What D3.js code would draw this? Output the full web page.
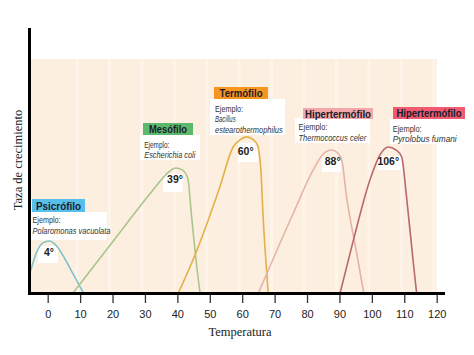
<!DOCTYPE html>
<html><head><meta charset="utf-8">
<script src="https://cdn.jsdelivr.net/npm/d3@7"></script>
<style>body{margin:0;background:#fff}svg{display:block}</style>
</head><body>
<svg id="c" width="474" height="355"></svg>
<script>
// ---- data ----
const xTicks = [0,10,20,30,40,50,60,70,80,90,100,110,120];
const psicrofilo = [[-5.3,9.4],[-3.5,17.1],[-1.5,21.4],[0.5,22.2],[3,19.7],[5.5,14.1],[8,7.7],[11,0]];
const mesofilo = [[7.8,0],[20,21.8],[30,39.7],[34,46.6],[37,51.3],[39.5,53.4],[41.5,52.6],[43.2,49.1],[44.4,32.5],[46,11.1],[47,0]];
const termofilo = [[40.3,0],[45.7,17.1],[53.1,45.3],[57.2,62.4],[59.3,65.4],[61.4,66.7],[63.5,65.4],[64.7,63.2],[65.7,53.8],[66.5,31.2],[67.5,9.8],[68,0]];
const hiper1 = [[65,0],[75.8,34.2],[81.9,52.6],[85,59.4],[87.6,61.1],[89.5,59.8],[90.7,56.8],[92.2,41.0],[95.3,17.1],[97.5,0]];
const hiper2 = [[90.2,0],[94.3,22.6],[99.4,48.3],[102.5,59.0],[105,62.4],[107.5,61.1],[109.2,58.1],[110.7,41.0],[112.8,12.8],[113.8,0]];
const groupNames = ["Psicrófilo","Mesófilo","Termófilo","Hipertermófilo","Hipertermófilo"];
const optimumLabels = ["4°","39°","60°","88°","106°"];
const exampleLines = [["Ejemplo:","Polaromonas vacuolata"],["Ejemplo:","Escherichia coli"],["Ejemplo:","Bacillus","estearothermophilus"],["Ejemplo:","Thermococcus celer"],["Ejemplo:","Pyrolobus fumani"]];
const xTitle = "Temperatura";
const yTitle = "Taza de crecimiento";

// ---- layout ----
const svg = d3.select("#c");
const x = d3.scaleLinear().domain([0,120]).range([47.7,436.7]);
const y = d3.scaleLinear().domain([0,100]).range([293,59]);
const series = [psicrofilo, mesofilo, termofilo, hiper1, hiper2];
const lineColors = ["#7fc3c9","#a9c68c","#e4b048","#e6b3aa","#b9686c"];
const boxColors = ["#58bfea","#5cb86c","#f6961f","#f4a7aa","#f15a6f"];

// background
svg.append("rect").attr("x",31).attr("y",59).attr("width",x(120)-31).attr("height",292-59).attr("fill","#fcefdf");
svg.selectAll("line.stripe").data(xTicks.slice(1)).join("line").attr("class","stripe")
  .attr("x1",d=>x(d)-3).attr("x2",d=>x(d)-3).attr("y1",59).attr("y2",292)
  .attr("stroke","#fef4e9").attr("stroke-width",3);

// white label backgrounds
const exBoxes = [[31,212,76,28],[140,135,60,25],[210,99,75,36],[295,118,75,25],[390,119,72,25]];
const optBoxes = [[38,246,20,17],[163,174,20,18],[238,143,20,19],[322,157,19,15],[378,156,24,14]];
svg.selectAll("rect.exb").data(exBoxes).join("rect").attr("class","exb")
  .attr("x",d=>d[0]).attr("y",d=>d[1]).attr("width",d=>d[2]).attr("height",d=>d[3]).attr("fill","#fff");
svg.selectAll("rect.opb").data(optBoxes).join("rect").attr("class","opb")
  .attr("x",d=>d[0]).attr("y",d=>d[1]).attr("width",d=>d[2]).attr("height",d=>d[3]).attr("fill","#fff");

// curves
const line = d3.line().x(d=>x(d[0])).y(d=>y(d[1])).curve(d3.curveMonotoneX);
svg.selectAll("path.curve").data(series).join("path").attr("class","curve")
  .attr("d",line).attr("fill","none").attr("stroke",(d,i)=>lineColors[i]).attr("stroke-width",1.6);

// group title boxes
const titleBoxes = [[32,199,53,13],[143,123,50,12],[214,87,54,12],[303,108,70,11],[393,107,72,12]];
const titleW = [45,38,43,66,65];
titleBoxes.forEach((b,i)=>{
  svg.append("rect").attr("x",b[0]).attr("y",b[1]).attr("width",b[2]).attr("height",b[3]).attr("fill",boxColors[i]);
  svg.append("text").attr("x",b[0]+b[2]/2).attr("y",b[1]+b[3]/2+4.2).attr("text-anchor","middle")
    .attr("font-family","Liberation Sans, Arial, sans-serif").attr("font-weight","bold").attr("font-size",11.5)
    .attr("fill","#1b1b2a").attr("textLength",titleW[i]).attr("lengthAdjust","spacingAndGlyphs").text(groupNames[i]);
});

// example texts
const exPos = [[32.5,[220,231]],[144.3,[144.3,154.3]],[215,[108.3,118.3,129.3]],[298.5,[126.7,137.7]],[392.7,[128.3,138.3]]];
const exW = [[28,78],[25,51],[28,20.7,67.7],[29,67.7],[29,64]];
exampleLines.forEach((lines,i)=>{
  lines.forEach((t,j)=>{
    svg.append("text").attr("x",exPos[i][0]).attr("y",exPos[i][1][j]+3.4)
      .attr("font-family","Liberation Sans, Arial, sans-serif").attr("font-size",9.5)
      .attr("font-style",j===0?"normal":"italic").attr("fill","#333")
      .attr("textLength",exW[i][j]).attr("lengthAdjust","spacingAndGlyphs").text(t);
  });
});

// optimum labels
const optPos = [[49,252.5],[175,179],[245.7,151],[332.7,161.7],[388.3,161.7]];
optimumLabels.forEach((t,i)=>{
  svg.append("text").attr("x",optPos[i][0]).attr("y",optPos[i][1]+3.6).attr("text-anchor","middle")
    .attr("font-family","Liberation Sans, Arial, sans-serif").attr("font-weight","bold").attr("font-size",10.5)
    .attr("fill","#1b1b1b").text(t);
});

// axes
const ax = svg.append("g").attr("transform","translate(0,294)")
  .call(d3.axisBottom(x).tickValues(xTicks).tickSize(9).tickPadding(7));
ax.select(".domain").remove();
ax.selectAll(".tick line").attr("stroke","#333").attr("stroke-width",1.3);
ax.selectAll(".tick text").attr("font-family","Liberation Sans, Arial, sans-serif").attr("font-size",11).attr("fill","#222");
svg.append("line").attr("x1",29.5).attr("x2",29.5).attr("y1",28).attr("y2",295).attr("stroke","#000").attr("stroke-width",3);
svg.append("line").attr("x1",28).attr("x2",445).attr("y1",293.5).attr("y2",293.5).attr("stroke","#000").attr("stroke-width",3);

// titles
svg.append("text").attr("x",240).attr("y",336).attr("text-anchor","middle")
  .attr("font-family","Liberation Serif, Times New Roman, serif").attr("font-size",12.5).attr("fill","#222").text(xTitle);
svg.append("text").attr("transform","translate(22,160) rotate(-90)").attr("text-anchor","middle")
  .attr("font-family","Liberation Serif, Times New Roman, serif").attr("font-size",12.5).attr("fill","#222").text(yTitle);
</script>
</body></html>
